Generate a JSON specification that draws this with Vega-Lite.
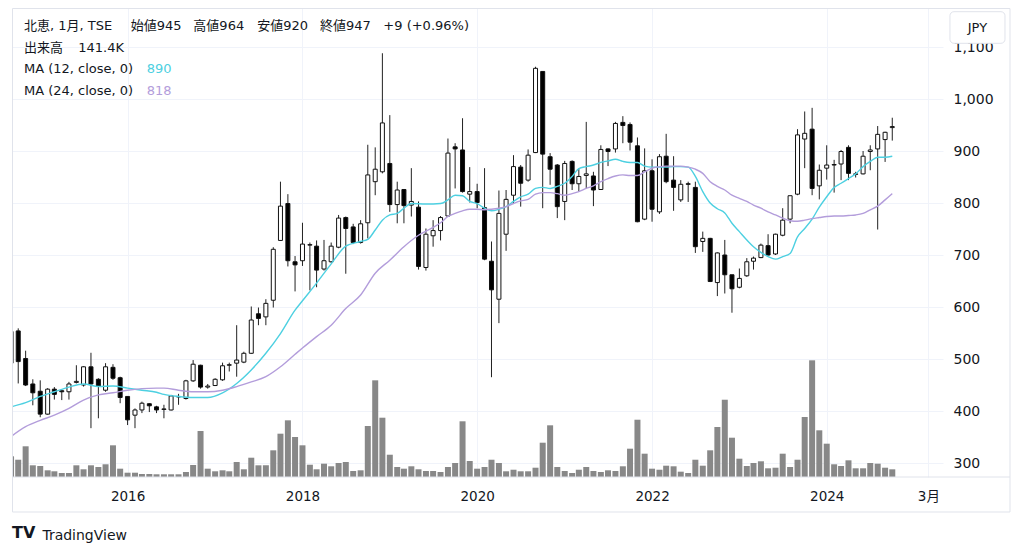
{
 "$schema": "https://vega.github.io/schema/vega-lite/v6.json",
 "width": 931,
 "height": 469,
 "autosize": {"type": "none"},
 "padding": {"left": 12, "top": 8, "right": 81, "bottom": 80},
 "background": "#ffffff",
 "config": {"view": {"stroke": null}, "font": "DejaVu Sans, Noto Sans CJK JP"},
 "datasets": {
  "candles": [
   {"date":"2014-09-01","o":492,"h":556,"l":488,"c":553,"v":381},
   {"date":"2014-10-01","o":554,"h":559,"l":453,"c":495,"v":318},
   {"date":"2014-11-01","o":501,"h":516,"l":448,"c":450,"v":565},
   {"date":"2014-12-01","o":452,"h":461,"l":411,"c":435,"v":215},
   {"date":"2015-01-01","o":438,"h":459,"l":388,"c":394,"v":202},
   {"date":"2015-02-01","o":394,"h":444,"l":393,"c":442,"v":123},
   {"date":"2015-03-01","o":442,"h":446,"l":422,"c":432,"v":105},
   {"date":"2015-04-01","o":439,"h":440,"l":421,"c":437,"v":74},
   {"date":"2015-05-01","o":437,"h":456,"l":422,"c":452,"v":74},
   {"date":"2015-06-01","o":455,"h":488,"l":453,"c":457,"v":215},
   {"date":"2015-07-01","o":450,"h":486,"l":447,"c":485,"v":142},
   {"date":"2015-08-01","o":485,"h":512,"l":367,"c":452,"v":215},
   {"date":"2015-09-01","o":461,"h":463,"l":386,"c":448,"v":184},
   {"date":"2015-10-01","o":440,"h":492,"l":437,"c":485,"v":234},
   {"date":"2015-11-01","o":484,"h":490,"l":460,"c":463,"v":583},
   {"date":"2015-12-01","o":464,"h":466,"l":415,"c":426,"v":153},
   {"date":"2016-01-01","o":428,"h":428,"l":373,"c":383,"v":79},
   {"date":"2016-02-01","o":392,"h":405,"l":367,"c":402,"v":79},
   {"date":"2016-03-01","o":402,"h":418,"l":396,"c":415,"v":55},
   {"date":"2016-04-01","o":414,"h":415,"l":398,"c":410,"v":55},
   {"date":"2016-05-01","o":408,"h":410,"l":396,"c":402,"v":50},
   {"date":"2016-06-01","o":403,"h":412,"l":386,"c":404,"v":50},
   {"date":"2016-07-01","o":402,"h":431,"l":401,"c":429,"v":50},
   {"date":"2016-08-01","o":428,"h":433,"l":412,"c":427,"v":50},
   {"date":"2016-09-01","o":424,"h":460,"l":422,"c":458,"v":92},
   {"date":"2016-10-01","o":458,"h":498,"l":456,"c":490,"v":221},
   {"date":"2016-11-01","o":488,"h":489,"l":443,"c":446,"v":846},
   {"date":"2016-12-01","o":446,"h":452,"l":443,"c":448,"v":153},
   {"date":"2017-01-01","o":449,"h":463,"l":448,"c":461,"v":105},
   {"date":"2017-02-01","o":460,"h":493,"l":458,"c":487,"v":123},
   {"date":"2017-03-01","o":488,"h":493,"l":476,"c":489,"v":105},
   {"date":"2017-04-01","o":492,"h":565,"l":466,"c":498,"v":276},
   {"date":"2017-05-01","o":494,"h":514,"l":492,"c":511,"v":142},
   {"date":"2017-06-01","o":511,"h":601,"l":510,"c":575,"v":355},
   {"date":"2017-07-01","o":587,"h":599,"l":565,"c":578,"v":215},
   {"date":"2017-08-01","o":581,"h":615,"l":565,"c":607,"v":215},
   {"date":"2017-09-01","o":613,"h":715,"l":599,"c":711,"v":491},
   {"date":"2017-10-01","o":728,"h":841,"l":727,"c":794,"v":797},
   {"date":"2017-11-01","o":799,"h":817,"l":678,"c":689,"v":1043},
   {"date":"2017-12-01","o":687,"h":698,"l":630,"c":681,"v":736},
   {"date":"2018-01-01","o":689,"h":762,"l":679,"c":721,"v":583},
   {"date":"2018-02-01","o":719,"h":724,"l":632,"c":720,"v":226},
   {"date":"2018-03-01","o":717,"h":728,"l":638,"c":671,"v":142},
   {"date":"2018-04-01","o":673,"h":729,"l":670,"c":689,"v":245},
   {"date":"2018-05-01","o":687,"h":724,"l":685,"c":717,"v":197},
   {"date":"2018-06-01","o":715,"h":777,"l":713,"c":771,"v":258},
   {"date":"2018-07-01","o":772,"h":774,"l":664,"c":751,"v":276},
   {"date":"2018-08-01","o":754,"h":760,"l":721,"c":724,"v":110},
   {"date":"2018-09-01","o":724,"h":767,"l":722,"c":760,"v":123},
   {"date":"2018-10-01","o":762,"h":912,"l":732,"c":854,"v":938},
   {"date":"2018-11-01","o":841,"h":907,"l":815,"c":865,"v":1779},
   {"date":"2018-12-01","o":860,"h":1088,"l":857,"c":954,"v":1091},
   {"date":"2019-01-01","o":876,"h":969,"l":783,"c":797,"v":410},
   {"date":"2019-02-01","o":797,"h":841,"l":761,"c":825,"v":184},
   {"date":"2019-03-01","o":826,"h":826,"l":761,"c":795,"v":153},
   {"date":"2019-04-01","o":796,"h":867,"l":774,"c":803,"v":197},
   {"date":"2019-05-01","o":792,"h":803,"l":672,"c":678,"v":142},
   {"date":"2019-06-01","o":676,"h":751,"l":670,"c":740,"v":110},
   {"date":"2019-07-01","o":737,"h":767,"l":716,"c":747,"v":110},
   {"date":"2019-08-01","o":747,"h":775,"l":728,"c":772,"v":92},
   {"date":"2019-09-01","o":775,"h":924,"l":774,"c":896,"v":184},
   {"date":"2019-10-01","o":908,"h":915,"l":828,"c":904,"v":258},
   {"date":"2019-11-01","o":902,"h":963,"l":820,"c":822,"v":1025},
   {"date":"2019-12-01","o":817,"h":869,"l":801,"c":822,"v":294},
   {"date":"2020-01-01","o":822,"h":837,"l":790,"c":801,"v":153},
   {"date":"2020-02-01","o":791,"h":867,"l":690,"c":692,"v":184},
   {"date":"2020-03-01","o":688,"h":726,"l":465,"c":633,"v":318},
   {"date":"2020-04-01","o":615,"h":824,"l":569,"c":780,"v":258},
   {"date":"2020-05-01","o":740,"h":825,"l":708,"c":807,"v":105},
   {"date":"2020-06-01","o":815,"h":892,"l":799,"c":870,"v":134},
   {"date":"2020-07-01","o":869,"h":873,"l":793,"c":838,"v":105},
   {"date":"2020-08-01","o":844,"h":903,"l":841,"c":892,"v":105},
   {"date":"2020-09-01","o":897,"h":1062,"l":896,"c":1059,"v":171},
   {"date":"2020-10-01","o":1053,"h":1053,"l":790,"c":894,"v":631},
   {"date":"2020-11-01","o":889,"h":896,"l":835,"c":865,"v":951},
   {"date":"2020-12-01","o":873,"h":875,"l":771,"c":793,"v":184},
   {"date":"2021-01-01","o":803,"h":881,"l":767,"c":876,"v":110},
   {"date":"2021-02-01","o":880,"h":882,"l":825,"c":837,"v":74},
   {"date":"2021-03-01","o":837,"h":866,"l":822,"c":851,"v":134},
   {"date":"2021-04-01","o":853,"h":956,"l":828,"c":856,"v":184},
   {"date":"2021-05-01","o":852,"h":860,"l":794,"c":825,"v":110},
   {"date":"2021-06-01","o":826,"h":911,"l":825,"c":903,"v":92},
   {"date":"2021-07-01","o":904,"h":905,"l":871,"c":899,"v":123},
   {"date":"2021-08-01","o":904,"h":956,"l":897,"c":953,"v":110},
   {"date":"2021-09-01","o":955,"h":967,"l":915,"c":949,"v":197},
   {"date":"2021-10-01","o":951,"h":955,"l":901,"c":917,"v":521},
   {"date":"2021-11-01","o":910,"h":926,"l":763,"c":764,"v":1054},
   {"date":"2021-12-01","o":769,"h":905,"l":767,"c":862,"v":429},
   {"date":"2022-01-01","o":862,"h":884,"l":764,"c":788,"v":153},
   {"date":"2022-02-01","o":783,"h":894,"l":779,"c":889,"v":134},
   {"date":"2022-03-01","o":890,"h":933,"l":838,"c":841,"v":208},
   {"date":"2022-04-01","o":844,"h":890,"l":785,"c":830,"v":197},
   {"date":"2022-05-01","o":806,"h":844,"l":802,"c":836,"v":98},
   {"date":"2022-06-01","o":837,"h":841,"l":802,"c":836,"v":74},
   {"date":"2022-07-01","o":830,"h":841,"l":704,"c":716,"v":318},
   {"date":"2022-08-01","o":726,"h":745,"l":706,"c":732,"v":208},
   {"date":"2022-09-01","o":732,"h":733,"l":648,"c":649,"v":491},
   {"date":"2022-10-01","o":647,"h":705,"l":621,"c":704,"v":920},
   {"date":"2022-11-01","o":700,"h":729,"l":626,"c":662,"v":1422},
   {"date":"2022-12-01","o":662,"h":662,"l":589,"c":635,"v":723},
   {"date":"2023-01-01","o":638,"h":674,"l":636,"c":655,"v":337},
   {"date":"2023-02-01","o":660,"h":694,"l":658,"c":687,"v":202},
   {"date":"2023-03-01","o":688,"h":697,"l":672,"c":694,"v":258},
   {"date":"2023-04-01","o":695,"h":722,"l":694,"c":719,"v":289},
   {"date":"2023-05-01","o":718,"h":740,"l":699,"c":700,"v":160},
   {"date":"2023-06-01","o":702,"h":741,"l":700,"c":740,"v":171},
   {"date":"2023-07-01","o":738,"h":790,"l":736,"c":767,"v":429},
   {"date":"2023-08-01","o":769,"h":814,"l":761,"c":814,"v":184},
   {"date":"2023-09-01","o":817,"h":942,"l":815,"c":931,"v":318},
   {"date":"2023-10-01","o":923,"h":976,"l":867,"c":934,"v":1104},
   {"date":"2023-11-01","o":942,"h":983,"l":815,"c":828,"v":2147},
   {"date":"2023-12-01","o":833,"h":874,"l":807,"c":863,"v":859},
   {"date":"2024-01-01","o":867,"h":911,"l":845,"c":873,"v":613},
   {"date":"2024-02-01","o":873,"h":883,"l":820,"c":874,"v":234},
   {"date":"2024-03-01","o":875,"h":902,"l":844,"c":899,"v":202},
   {"date":"2024-04-01","o":907,"h":911,"l":844,"c":857,"v":307},
   {"date":"2024-05-01","o":856,"h":860,"l":849,"c":855,"v":160},
   {"date":"2024-06-01","o":856,"h":900,"l":855,"c":890,"v":160},
   {"date":"2024-07-01","o":899,"h":911,"l":863,"c":902,"v":258},
   {"date":"2024-08-01","o":904,"h":948,"l":749,"c":932,"v":245},
   {"date":"2024-09-01","o":922,"h":937,"l":879,"c":936,"v":171},
   {"date":"2024-10-01","o":945,"h":964,"l":920,"c":947,"v":141.4}
  ],
  "ma": [
   {"date":"2014-09-01","s":"MA12","value":408},{"date":"2014-11-01","s":"MA12","value":416},{"date":"2015-01-01","s":"MA12","value":428},{"date":"2015-03-01","s":"MA12","value":437},{"date":"2015-05-01","s":"MA12","value":446},{"date":"2015-07-01","s":"MA12","value":452},{"date":"2015-09-01","s":"MA12","value":447},{"date":"2015-11-01","s":"MA12","value":448},{"date":"2016-01-01","s":"MA12","value":444},{"date":"2016-03-01","s":"MA12","value":440},{"date":"2016-05-01","s":"MA12","value":436},{"date":"2016-06-01","s":"MA12","value":432},{"date":"2016-08-01","s":"MA12","value":428},{"date":"2016-10-01","s":"MA12","value":426},{"date":"2016-12-01","s":"MA12","value":426},{"date":"2017-02-01","s":"MA12","value":435},{"date":"2017-04-01","s":"MA12","value":453},{"date":"2017-06-01","s":"MA12","value":479},{"date":"2017-08-01","s":"MA12","value":511},{"date":"2017-10-01","s":"MA12","value":549},{"date":"2017-12-01","s":"MA12","value":594},{"date":"2018-01-01","s":"MA12","value":612},{"date":"2018-03-01","s":"MA12","value":646},{"date":"2018-05-01","s":"MA12","value":683},{"date":"2018-07-01","s":"MA12","value":717},{"date":"2018-09-01","s":"MA12","value":726},{"date":"2018-10-01","s":"MA12","value":730},{"date":"2018-11-01","s":"MA12","value":748},{"date":"2018-12-01","s":"MA12","value":767},{"date":"2019-01-01","s":"MA12","value":777},{"date":"2019-02-01","s":"MA12","value":780},{"date":"2019-03-01","s":"MA12","value":790},{"date":"2019-04-01","s":"MA12","value":799},{"date":"2019-06-01","s":"MA12","value":798},{"date":"2019-08-01","s":"MA12","value":799},{"date":"2019-09-01","s":"MA12","value":806},{"date":"2019-10-01","s":"MA12","value":815},{"date":"2019-11-01","s":"MA12","value":814},{"date":"2019-12-01","s":"MA12","value":803},{"date":"2020-01-01","s":"MA12","value":799},{"date":"2020-02-01","s":"MA12","value":790},{"date":"2020-03-01","s":"MA12","value":785},{"date":"2020-04-01","s":"MA12","value":788},{"date":"2020-05-01","s":"MA12","value":793},{"date":"2020-06-01","s":"MA12","value":803},{"date":"2020-07-01","s":"MA12","value":812},{"date":"2020-08-01","s":"MA12","value":817},{"date":"2020-09-01","s":"MA12","value":828},{"date":"2020-10-01","s":"MA12","value":830},{"date":"2020-11-01","s":"MA12","value":828},{"date":"2020-12-01","s":"MA12","value":832},{"date":"2021-01-01","s":"MA12","value":838},{"date":"2021-02-01","s":"MA12","value":851},{"date":"2021-03-01","s":"MA12","value":866},{"date":"2021-04-01","s":"MA12","value":870},{"date":"2021-05-01","s":"MA12","value":873},{"date":"2021-06-01","s":"MA12","value":878},{"date":"2021-07-01","s":"MA12","value":881},{"date":"2021-08-01","s":"MA12","value":884},{"date":"2021-09-01","s":"MA12","value":880},{"date":"2021-10-01","s":"MA12","value":878},{"date":"2021-11-01","s":"MA12","value":878},{"date":"2021-12-01","s":"MA12","value":871},{"date":"2022-01-01","s":"MA12","value":869},{"date":"2022-02-01","s":"MA12","value":869},{"date":"2022-03-01","s":"MA12","value":869},{"date":"2022-04-01","s":"MA12","value":870},{"date":"2022-05-01","s":"MA12","value":870},{"date":"2022-06-01","s":"MA12","value":869},{"date":"2022-07-01","s":"MA12","value":851},{"date":"2022-08-01","s":"MA12","value":822},{"date":"2022-09-01","s":"MA12","value":800},{"date":"2022-10-01","s":"MA12","value":789},{"date":"2022-11-01","s":"MA12","value":781},{"date":"2022-12-01","s":"MA12","value":761},{"date":"2023-01-01","s":"MA12","value":745},{"date":"2023-02-01","s":"MA12","value":729},{"date":"2023-03-01","s":"MA12","value":716},{"date":"2023-04-01","s":"MA12","value":705},{"date":"2023-05-01","s":"MA12","value":697},{"date":"2023-06-01","s":"MA12","value":692},{"date":"2023-07-01","s":"MA12","value":697},{"date":"2023-08-01","s":"MA12","value":703},{"date":"2023-09-01","s":"MA12","value":735},{"date":"2023-10-01","s":"MA12","value":751},{"date":"2023-11-01","s":"MA12","value":769},{"date":"2023-12-01","s":"MA12","value":792},{"date":"2024-01-01","s":"MA12","value":812},{"date":"2024-02-01","s":"MA12","value":830},{"date":"2024-03-01","s":"MA12","value":838},{"date":"2024-04-01","s":"MA12","value":847},{"date":"2024-05-01","s":"MA12","value":856},{"date":"2024-06-01","s":"MA12","value":870},{"date":"2024-07-01","s":"MA12","value":880},{"date":"2024-08-01","s":"MA12","value":888},{"date":"2024-09-01","s":"MA12","value":888},{"date":"2024-10-01","s":"MA12","value":890},
   {"date":"2014-09-01","s":"MA24","value":351},{"date":"2014-11-01","s":"MA24","value":370},{"date":"2015-01-01","s":"MA24","value":382},{"date":"2015-03-01","s":"MA24","value":392},{"date":"2015-05-01","s":"MA24","value":405},{"date":"2015-07-01","s":"MA24","value":421},{"date":"2015-09-01","s":"MA24","value":431},{"date":"2015-11-01","s":"MA24","value":435},{"date":"2016-01-01","s":"MA24","value":440},{"date":"2016-03-01","s":"MA24","value":443},{"date":"2016-05-01","s":"MA24","value":444},{"date":"2016-06-01","s":"MA24","value":444},{"date":"2016-08-01","s":"MA24","value":440},{"date":"2016-10-01","s":"MA24","value":437},{"date":"2016-12-01","s":"MA24","value":437},{"date":"2017-02-01","s":"MA24","value":440},{"date":"2017-04-01","s":"MA24","value":447},{"date":"2017-06-01","s":"MA24","value":456},{"date":"2017-08-01","s":"MA24","value":466},{"date":"2017-10-01","s":"MA24","value":485},{"date":"2017-12-01","s":"MA24","value":509},{"date":"2018-01-01","s":"MA24","value":521},{"date":"2018-03-01","s":"MA24","value":543},{"date":"2018-05-01","s":"MA24","value":565},{"date":"2018-07-01","s":"MA24","value":597},{"date":"2018-09-01","s":"MA24","value":623},{"date":"2018-11-01","s":"MA24","value":665},{"date":"2019-01-01","s":"MA24","value":690},{"date":"2019-03-01","s":"MA24","value":716},{"date":"2019-05-01","s":"MA24","value":738},{"date":"2019-07-01","s":"MA24","value":753},{"date":"2019-08-01","s":"MA24","value":762},{"date":"2019-09-01","s":"MA24","value":774},{"date":"2019-10-01","s":"MA24","value":780},{"date":"2019-11-01","s":"MA24","value":785},{"date":"2019-12-01","s":"MA24","value":788},{"date":"2020-01-01","s":"MA24","value":788},{"date":"2020-02-01","s":"MA24","value":787},{"date":"2020-03-01","s":"MA24","value":788},{"date":"2020-04-01","s":"MA24","value":790},{"date":"2020-05-01","s":"MA24","value":793},{"date":"2020-06-01","s":"MA24","value":799},{"date":"2020-07-01","s":"MA24","value":804},{"date":"2020-08-01","s":"MA24","value":807},{"date":"2020-09-01","s":"MA24","value":817},{"date":"2020-10-01","s":"MA24","value":820},{"date":"2020-11-01","s":"MA24","value":820},{"date":"2020-12-01","s":"MA24","value":818},{"date":"2021-01-01","s":"MA24","value":815},{"date":"2021-02-01","s":"MA24","value":818},{"date":"2021-03-01","s":"MA24","value":822},{"date":"2021-04-01","s":"MA24","value":828},{"date":"2021-05-01","s":"MA24","value":833},{"date":"2021-06-01","s":"MA24","value":841},{"date":"2021-07-01","s":"MA24","value":847},{"date":"2021-08-01","s":"MA24","value":852},{"date":"2021-09-01","s":"MA24","value":854},{"date":"2021-10-01","s":"MA24","value":853},{"date":"2021-11-01","s":"MA24","value":853},{"date":"2021-12-01","s":"MA24","value":860},{"date":"2022-01-01","s":"MA24","value":867},{"date":"2022-02-01","s":"MA24","value":870},{"date":"2022-03-01","s":"MA24","value":871},{"date":"2022-04-01","s":"MA24","value":871},{"date":"2022-05-01","s":"MA24","value":871},{"date":"2022-06-01","s":"MA24","value":869},{"date":"2022-07-01","s":"MA24","value":865},{"date":"2022-08-01","s":"MA24","value":857},{"date":"2022-09-01","s":"MA24","value":841},{"date":"2022-10-01","s":"MA24","value":832},{"date":"2022-11-01","s":"MA24","value":825},{"date":"2022-12-01","s":"MA24","value":815},{"date":"2023-01-01","s":"MA24","value":809},{"date":"2023-02-01","s":"MA24","value":803},{"date":"2023-03-01","s":"MA24","value":796},{"date":"2023-04-01","s":"MA24","value":790},{"date":"2023-05-01","s":"MA24","value":783},{"date":"2023-06-01","s":"MA24","value":777},{"date":"2023-07-01","s":"MA24","value":771},{"date":"2023-08-01","s":"MA24","value":766},{"date":"2023-09-01","s":"MA24","value":765},{"date":"2023-10-01","s":"MA24","value":767},{"date":"2023-11-01","s":"MA24","value":770},{"date":"2023-12-01","s":"MA24","value":772},{"date":"2024-01-01","s":"MA24","value":774},{"date":"2024-02-01","s":"MA24","value":775},{"date":"2024-03-01","s":"MA24","value":775},{"date":"2024-04-01","s":"MA24","value":776},{"date":"2024-05-01","s":"MA24","value":777},{"date":"2024-06-01","s":"MA24","value":780},{"date":"2024-07-01","s":"MA24","value":787},{"date":"2024-08-01","s":"MA24","value":794},{"date":"2024-09-01","s":"MA24","value":806},{"date":"2024-10-01","s":"MA24","value":818}
  ]
 },
 "layer": [
  {
   "data": {"name": "candles"},
   "mark": {"type": "bar", "size": 6, "color": "#888888", "clip": true},
   "encoding": {
    "x": {"field": "date", "type": "temporal", "scale": {"type": "utc", "domain": [1409875200000, 1746057600000], "padding": 0},
     "axis": {
      "values": [1451606400000, 1514764800000, 1577836800000, 1640995200000, 1704067200000, 1740787200000],
      "labelExpr": "utcmonth(datum.value) == 2 ? '3月' : utcFormat(datum.value, '%Y')",
      "grid": true, "gridColor": "#f0f3fa", "domain": false, "ticks": false, "tickSize": 0,
      "labelPadding": 12, "labelFontSize": 13.5, "labelColor": "#131722", "title": null,
      "labelFlush": false, "labelOverlap": false
     }},
    "y": {"field": "v", "type": "quantitative", "scale": {"domain": [0, 8630], "nice": false, "zero": false}, "axis": null}
   }
  },
  {
   "data": {"name": "candles"},
   "mark": {"type": "rule", "color": "#222222", "strokeWidth": 1, "clip": true},
   "encoding": {
    "x": {"field": "date", "type": "temporal", "scale": {"type": "utc", "domain": [1409875200000, 1746057600000], "padding": 0}, "axis": null},
    "y": {"field": "l", "type": "quantitative", "scale": {"domain": [273.1, 1175], "nice": false, "zero": false},
     "axis": {"orient": "right", "values": [300,400,500,600,700,800,900,1000,1100], "format": ",.0f", "grid": true, "gridColor": "#f0f3fa", "domain": false, "ticks": false, "tickSize": 0, "labelPadding": 10, "labelFontSize": 14, "labelColor": "#131722", "title": null, "labelFlush": false, "labelBaseline": "middle"}},
    "y2": {"field": "h"}
   }
  },
  {
   "data": {"name": "candles"},
   "mark": {"type": "bar", "size": 4, "stroke": "#111111", "strokeWidth": 1, "clip": true},
   "encoding": {
    "x": {"field": "date", "type": "temporal", "scale": {"type": "utc", "domain": [1409875200000, 1746057600000], "padding": 0}, "axis": null},
    "y": {"field": "o", "type": "quantitative", "scale": {"domain": [273.1, 1175], "nice": false, "zero": false}, "axis": null},
    "y2": {"field": "c"},
    "fill": {"condition": {"test": "datum.c >= datum.o", "value": "#ffffff"}, "value": "#000000"}
   }
  },
  {
   "data": {"name": "ma"},
   "mark": {"type": "line", "strokeWidth": 1.4, "interpolate": "monotone", "clip": true},
   "encoding": {
    "x": {"field": "date", "type": "temporal", "scale": {"type": "utc", "domain": [1409875200000, 1746057600000], "padding": 0}, "axis": null},
    "y": {"field": "value", "type": "quantitative", "scale": {"domain": [273.1, 1175], "nice": false, "zero": false}, "axis": null},
    "color": {"field": "s", "type": "nominal", "scale": {"domain": ["MA12", "MA24"], "range": ["#4dd0e1", "#b39ddb"]}, "legend": null}
   }
  },
  {
   "data": {"values": [{}]},
   "mark": {"type": "rule", "color": "#e0e3eb", "strokeWidth": 1},
   "encoding": {
    "x": {"datum": 1409875200000, "type": "temporal", "scale": {"type": "utc", "domain": [1409875200000, 1746057600000], "padding": 0}, "axis": null},
    "x2": {"datum": 1770249600000},
    "y": {"datum": 273.1, "type": "quantitative", "scale": {"domain": [273.1, 1175], "nice": false, "zero": false}, "axis": null}
   }
  },
  {
   "data": {"values": [{}]},
   "mark": {"type": "rect", "fillOpacity": 0, "stroke": "#e0e3eb", "strokeWidth": 1},
   "encoding": {
    "x": {"datum": 1410048000000, "type": "temporal", "scale": {"type": "utc", "domain": [1409875200000, 1746057600000], "padding": 0}, "axis": null},
    "x2": {"datum": 1770249600000},
    "y": {"datum": 1174, "type": "quantitative", "scale": {"domain": [273.1, 1175], "nice": false, "zero": false}, "axis": null},
    "y2": {"datum": 205.8}
   }
  },
  {
   "data": {"values": [{}]},
   "mark": {"type": "rect", "fill": "#ffffff", "stroke": "#e0e3eb", "strokeWidth": 1, "cornerRadius": 4},
   "encoding": {
    "x": {"datum": 1748563200000, "type": "temporal", "scale": {"type": "utc", "domain": [1409875200000, 1746057600000], "padding": 0}, "axis": null},
    "x2": {"datum": 1768435200000},
    "y": {"datum": 1167.9, "type": "quantitative", "scale": {"domain": [273.1, 1175], "nice": false, "zero": false}, "axis": null},
    "y2": {"datum": 1107.1}
   }
  },
  {
   "data": {"values": [{}]},
   "mark": {"type": "text", "text": "JPY", "align": "center", "baseline": "middle", "fontSize": 13, "color": "#131722"},
   "encoding": {
    "x": {"datum": 1758499200000, "type": "temporal", "scale": {"type": "utc", "domain": [1409875200000, 1746057600000], "padding": 0}, "axis": null},
    "y": {"datum": 1137.5, "type": "quantitative", "scale": {"domain": [273.1, 1175], "nice": false, "zero": false}, "axis": null}
   }
  },
  {
   "data": {"values": [{}]},
   "mark": {"type": "text", "text": "北恵, 1月, TSE", "align": "left", "baseline": "middle", "fontSize": 13, "color": "#131722"},
   "encoding": {
    "x": {"datum": 1414195200000, "type": "temporal", "scale": {"type": "utc", "domain": [1409875200000, 1746057600000], "padding": 0}, "axis": null},
    "y": {"datum": 1140.4, "type": "quantitative", "scale": {"domain": [273.1, 1175], "nice": false, "zero": false}, "axis": null}
   }
  },
  {
   "data": {"values": [{}]},
   "mark": {"type": "text", "text": "始値945", "align": "left", "baseline": "middle", "fontSize": 13, "color": "#131722"},
   "encoding": {
    "x": {"datum": 1452729600000, "type": "temporal", "scale": {"type": "utc", "domain": [1409875200000, 1746057600000], "padding": 0}, "axis": null},
    "y": {"datum": 1140.4, "type": "quantitative", "scale": {"domain": [273.1, 1175], "nice": false, "zero": false}, "axis": null}
   }
  },
  {
   "data": {"values": [{}]},
   "mark": {"type": "text", "text": "高値964", "align": "left", "baseline": "middle", "fontSize": 13, "color": "#131722"},
   "encoding": {
    "x": {"datum": 1475366400000, "type": "temporal", "scale": {"type": "utc", "domain": [1409875200000, 1746057600000], "padding": 0}, "axis": null},
    "y": {"datum": 1140.4, "type": "quantitative", "scale": {"domain": [273.1, 1175], "nice": false, "zero": false}, "axis": null}
   }
  },
  {
   "data": {"values": [{}]},
   "mark": {"type": "text", "text": "安値920", "align": "left", "baseline": "middle", "fontSize": 13, "color": "#131722"},
   "encoding": {
    "x": {"datum": 1498435200000, "type": "temporal", "scale": {"type": "utc", "domain": [1409875200000, 1746057600000], "padding": 0}, "axis": null},
    "y": {"datum": 1140.4, "type": "quantitative", "scale": {"domain": [273.1, 1175], "nice": false, "zero": false}, "axis": null}
   }
  },
  {
   "data": {"values": [{}]},
   "mark": {"type": "text", "text": "終値947", "align": "left", "baseline": "middle", "fontSize": 13, "color": "#131722"},
   "encoding": {
    "x": {"datum": 1521072000000, "type": "temporal", "scale": {"type": "utc", "domain": [1409875200000, 1746057600000], "padding": 0}, "axis": null},
    "y": {"datum": 1140.4, "type": "quantitative", "scale": {"domain": [273.1, 1175], "nice": false, "zero": false}, "axis": null}
   }
  },
  {
   "data": {"values": [{}]},
   "mark": {"type": "text", "text": "+9 (+0.96%)", "align": "left", "baseline": "middle", "fontSize": 13, "color": "#131722"},
   "encoding": {
    "x": {"datum": 1543968000000, "type": "temporal", "scale": {"type": "utc", "domain": [1409875200000, 1746057600000], "padding": 0}, "axis": null},
    "y": {"datum": 1140.4, "type": "quantitative", "scale": {"domain": [273.1, 1175], "nice": false, "zero": false}, "axis": null}
   }
  },
  {
   "data": {"values": [{}]},
   "mark": {"type": "text", "text": "出来高", "align": "left", "baseline": "middle", "fontSize": 13, "color": "#131722"},
   "encoding": {
    "x": {"datum": 1414195200000, "type": "temporal", "scale": {"type": "utc", "domain": [1409875200000, 1746057600000], "padding": 0}, "axis": null},
    "y": {"datum": 1098.7, "type": "quantitative", "scale": {"domain": [273.1, 1175], "nice": false, "zero": false}, "axis": null}
   }
  },
  {
   "data": {"values": [{}]},
   "mark": {"type": "text", "text": "141.4K", "align": "left", "baseline": "middle", "fontSize": 13, "color": "#131722"},
   "encoding": {
    "x": {"datum": 1433808000000, "type": "temporal", "scale": {"type": "utc", "domain": [1409875200000, 1746057600000], "padding": 0}, "axis": null},
    "y": {"datum": 1098.7, "type": "quantitative", "scale": {"domain": [273.1, 1175], "nice": false, "zero": false}, "axis": null}
   }
  },
  {
   "data": {"values": [{}]},
   "mark": {"type": "text", "text": "MA (12, close, 0)", "align": "left", "baseline": "middle", "fontSize": 13, "color": "#131722"},
   "encoding": {
    "x": {"datum": 1414195200000, "type": "temporal", "scale": {"type": "utc", "domain": [1409875200000, 1746057600000], "padding": 0}, "axis": null},
    "y": {"datum": 1057.1, "type": "quantitative", "scale": {"domain": [273.1, 1175], "nice": false, "zero": false}, "axis": null}
   }
  },
  {
   "data": {"values": [{}]},
   "mark": {"type": "text", "text": "890", "align": "left", "baseline": "middle", "fontSize": 13, "color": "#4dd0e1"},
   "encoding": {
    "x": {"datum": 1458518400000, "type": "temporal", "scale": {"type": "utc", "domain": [1409875200000, 1746057600000], "padding": 0}, "axis": null},
    "y": {"datum": 1057.1, "type": "quantitative", "scale": {"domain": [273.1, 1175], "nice": false, "zero": false}, "axis": null}
   }
  },
  {
   "data": {"values": [{}]},
   "mark": {"type": "text", "text": "MA (24, close, 0)", "align": "left", "baseline": "middle", "fontSize": 13, "color": "#131722"},
   "encoding": {
    "x": {"datum": 1414195200000, "type": "temporal", "scale": {"type": "utc", "domain": [1409875200000, 1746057600000], "padding": 0}, "axis": null},
    "y": {"datum": 1016, "type": "quantitative", "scale": {"domain": [273.1, 1175], "nice": false, "zero": false}, "axis": null}
   }
  },
  {
   "data": {"values": [{}]},
   "mark": {"type": "text", "text": "818", "align": "left", "baseline": "middle", "fontSize": 13, "color": "#b39ddb"},
   "encoding": {
    "x": {"datum": 1458518400000, "type": "temporal", "scale": {"type": "utc", "domain": [1409875200000, 1746057600000], "padding": 0}, "axis": null},
    "y": {"datum": 1016, "type": "quantitative", "scale": {"domain": [273.1, 1175], "nice": false, "zero": false}, "axis": null}
   }
  },
  {
   "data": {"values": [{}]},
   "mark": {"type": "text", "text": "TV", "align": "left", "baseline": "middle", "fontSize": 16, "fontWeight": 900, "color": "#131722"},
   "encoding": {
    "x": {"datum": 1409875200000, "type": "temporal", "scale": {"type": "utc", "domain": [1409875200000, 1746057600000], "padding": 0}, "axis": null},
    "y": {"datum": 165.4, "type": "quantitative", "scale": {"domain": [273.1, 1175], "nice": false, "zero": false}, "axis": null}
   }
  },
  {
   "data": {"values": [{}]},
   "mark": {"type": "text", "text": "TradingView", "align": "left", "baseline": "middle", "fontSize": 14, "color": "#131722"},
   "encoding": {
    "x": {"datum": 1420848000000, "type": "temporal", "scale": {"type": "utc", "domain": [1409875200000, 1746057600000], "padding": 0}, "axis": null},
    "y": {"datum": 159.6, "type": "quantitative", "scale": {"domain": [273.1, 1175], "nice": false, "zero": false}, "axis": null}
   }
  }
 ],
 "resolve": {"scale": {"x": "independent", "y": "independent"}}
}
